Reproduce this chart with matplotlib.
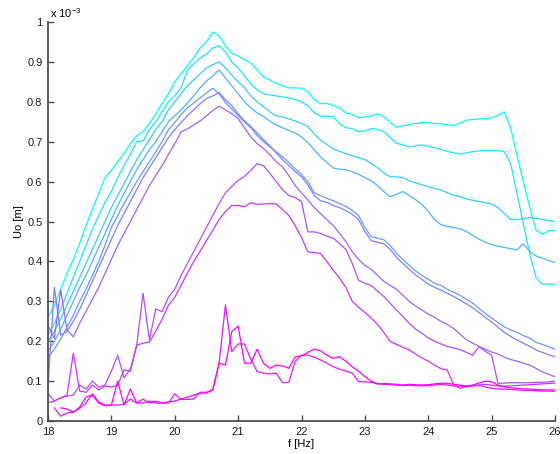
import numpy as np
import matplotlib
matplotlib.use("Agg")
import matplotlib.pyplot as plt
from matplotlib.ticker import FixedLocator, FuncFormatter

plt.rcParams['font.family'] = ['Liberation Sans', 'DejaVu Sans']
plt.rcParams['mathtext.default'] = 'regular'

# frequency grid [Hz]
freq = [round(18.0 + 0.1 * i, 1) for i in range(81)]

# amplitudes in units of 1e-3 m, one list per measurement series
nan = float('nan')
uo_1 = [.260, .290, .330, .370, .405, .445, .490, .530, .570, .610,
        .628, .650, .670, .695, .715, .725, .745, .770, .795, .820,
        .850, .870, .890, .910, .935, .950, .975, .965, .940, .922,
        .915, .905, .897, .880, .862, .855, .846, .840, .835, .835,
        .834, .825, .806, .795, .796, .790, .785, .772, .768, .760,
        .762, .765, .769, .762, .748, .736, .740, .743, .746, .748,
        .748, .745, .745, .743, .740, .747, .754, .756, .757, .758,
        .760, .766, .775, .735, .665, .600, .537, .478, .468, .477,
        .478]
uo_2 = [.215, .245, .280, .320, .360, .400, .440, .480, .515, .548,
        .575, .610, .640, .668, .700, .702, .730, .750, .775, .800,
        .815, .835, .880, .895, .910, .920, .935, .940, .925, .900,
        .885, .865, .845, .830, .820, .817, .815, .812, .810, .806,
        .800, .790, .773, .764, .764, .763, .745, .735, .733, .725,
        .727, .733, .731, .725, .710, .696, .692, .687, .690, .692,
        .688, .685, .680, .676, .672, .669, .672, .675, .677, .678,
        .678, .678, .675, .645, .570, .495, .420, .360, .343, .343,
        .343]
uo_3 = [.200, .225, .255, .290, .325, .360, .395, .430, .465, .500,
        .535, .565, .595, .625, .655, .680, .705, .730, .750, .780,
        .800, .820, .840, .855, .870, .885, .893, .900, .885, .867,
        .850, .835, .815, .800, .788, .775, .765, .762, .757, .752,
        .746, .738, .720, .704, .693, .682, .676, .670, .665, .660,
        .655, .645, .635, .622, .612, .612, .610, .602, .597, .592,
        .587, .583, .579, .572, .566, .562, .557, .553, .550, .547,
        .544, .535, .520, .505, .505, .507, .510, .508, .505, .502,
        .500]
uo_4 = [.175, .200, .230, .265, .300, .335, .365, .400, .435, .470,
        .505, .540, .570, .600, .630, .655, .680, .700, .725, .750,
        .765, .780, .797, .815, .835, .852, .865, .880, .860, .840,
        .820, .800, .785, .772, .763, .752, .742, .735, .728, .722,
        .712, .698, .680, .662, .648, .634, .631, .630, .625, .618,
        .610, .602, .590, .575, .562, .568, .575, .565, .555, .543,
        .525, .505, .492, .488, .485, .482, .475, .465, .456, .448,
        .442, .438, .435, .432, .429, .444, .425, .414, .408, .402,
        .397]
uo_5 = [.160, .180, .205, .235, .265, .300, .330, .365, .400, .440,
        .485, .515, .545, .572, .600, .625, .650, .675, .700, .730,
        .748, .768, .785, .797, .810, .822, .834, .820, .798, .782,
        .765, .750, .735, .715, .700, .687, .675, .662, .648, .632,
        .618, .600, .572, .565, .558, .552, .545, .538, .528, .515,
        .485, .462, .458, .454, .440, .420, .405, .390, .376, .365,
        .355, .345, .340, .330, .323, .315, .305, .296, .282, .270,
        .258, .247, .236, .228, .222, .214, .208, .197, .192, .186,
        .180]
uo_6 = [.085, .335, .215, .225, .250, .280, .315, .350, .385, .420,
        .455, .490, .520, .550, .580, .610, .635, .660, .685, .710,
        .730, .748, .765, .780, .795, .808, .815, .823, .805, .790,
        .770, .752, .738, .722, .705, .690, .672, .655, .640, .625,
        .612, .592, .565, .552, .548, .540, .535, .527, .518, .505,
        .475, .452, .448, .444, .430, .410, .395, .380, .366, .355,
        .343, .335, .328, .320, .312, .303, .294, .284, .272, .260,
        .248, .235, .222, .212, .203, .195, .187, .178, .172, .166,
        .161]
uo_7 = [.240, .207, .328, .228, .211, .245, .275, .305, .335, .370,
        .405, .440, .470, .500, .530, .560, .590, .615, .640, .668,
        .695, .725, .732, .742, .752, .765, .778, .789, .780, .770,
        .758, .735, .712, .695, .683, .668, .650, .637, .615, .590,
        .572, .554, .535, .520, .505, .490, .470, .450, .425, .405,
        .390, .380, .365, .350, .340, .330, .315, .300, .288, .278,
        .268, .260, .250, .242, .232, .218, .204, .195, .187, .180,
        .173, .168, .160, .154, .150, .145, .140, .132, .123, .117,
        .111]
uo_8 = [.069, .050, .058, .062, .065, .090, .080, .100, .085, .090,
        .125, .165, .108, .130, .190, .320, .203, .281, .274, .310,
        .330, .365, .395, .425, .455, .485, .515, .545, .572, .588,
        .603, .613, .628, .645, .640, .621, .600, .580, .565, .560,
        .550, .474, .474, .470, .463, .458, .445, .430, .395, .353,
        .345, .340, .325, .312, .295, .278, .262, .245, .230, .220,
        .208, .200, .193, .187, .183, .179, .172, .165, .186, .175,
        .165, .094, .095, .096, .096, .096, .096, .097, .097, .098,
        .100]
uo_9 = [.046, .050, .058, .065, .170, .075, .072, .090, .078, .088,
        .085, .090, .128, .125, .190, .195, .198, .225, .255, .290,
        .310, .340, .370, .400, .425, .452, .478, .505, .525, .540,
        .540, .537, .547, .543, .544, .545, .544, .530, .515, .490,
        .460, .424, .422, .420, .400, .378, .358, .335, .300, .285,
        .272, .258, .242, .222, .199, .192, .185, .178, .168, .158,
        .150, .140, .131, .128, .090, .082, .086, .088, .090, .092,
        .090, .088, .087, .088, .089, .090, .091, .092, .093, .094,
        .095]
uo_10 = [nan, .033, .012, .020, .022, .032, .045, .068, .048, .040,
         .040, .040, .042, .055, .045, .055, .045, .050, .045, .045,
         .068, .054, .054, .055, .072, .072, .078, .145, .291, .174,
         .193, .193, .155, .124, .120, .118, .120, .096, .097, .149,
         .165, .165, .160, .153, .145, .136, .130, .125, .120, .099,
         .098, .097, .093, .092, .091, .090, .089, .090, .088, .088,
         .089, .090, .092, .090, .088, .087, .086, .088, .090, .085,
         .082, .080, .080, .079, .078, .077, .077, .076, .075, .075,
         .074]
uo_11 = [nan, nan, .033, .030, .022, .035, .060, .065, .045, .038,
         .040, .100, .040, .080, .045, .045, .050, .045, .045, .048,
         .050, .055, .060, .065, .070, .070, .078, .145, .140, .224,
         .238, .145, .145, .180, .145, .132, .140, .138, .132, .161,
         .163, .172, .180, .176, .165, .157, .161, .150, .136, .125,
         .111, .100, .093, .094, .093, .092, .090, .092, .091, .090,
         .091, .093, .095, .094, .092, .090, .088, .090, .095, .100,
         .098, .090, .085, .083, .082, .080, .080, .079, .078, .078,
         .078]

series = [uo_1, uo_2, uo_3, uo_4, uo_5, uo_6, uo_7, uo_8, uo_9, uo_10, uo_11]

x_ticks = [18, 19, 20, 21, 22, 23, 24, 25, 26]
y_ticks = [0, 0.1, 0.2, 0.3, 0.4, 0.5, 0.6, 0.7, 0.8, 0.9, 1.0]

fig = plt.figure(figsize=(5.6, 4.54), dpi=100)
ax = fig.add_axes([48 / 560, 33 / 454, 507 / 560, 399 / 454])

cmap = plt.get_cmap('cool')
n = len(series)
for i, s in enumerate(series):
    ax.plot(freq, np.array(s) * 1e-3, color=cmap(i / (n - 1)), lw=0.9)

ax.set_xlim(18, 26)
ax.set_ylim(0, 1e-3)
ax.xaxis.set_major_locator(FixedLocator(x_ticks))
ax.yaxis.set_major_locator(FixedLocator([v * 1e-3 for v in y_ticks]))
ax.xaxis.set_major_formatter(FuncFormatter(lambda v, p: f"{v:g}"))
ax.yaxis.set_major_formatter(FuncFormatter(lambda v, p: f"{round(v * 1e3, 1):g}"))

for side in ['top', 'right']:
    ax.spines[side].set_visible(False)
for side in ['left', 'bottom']:
    ax.spines[side].set_color('#4d4d4d')
    ax.spines[side].set_linewidth(1.3)
ax.tick_params(direction='in', length=4, width=1.0, color='#4d4d4d',
               labelsize=8, labelcolor='#1a1a1a', pad=4)

ax.set_xlabel('f [Hz]', fontsize=8, labelpad=2)
ax.set_ylabel('Uo [m]', fontsize=8, labelpad=2)
fig.text(50 / 560, 1 - 13 / 454, r'x 10$^{-3}$', fontsize=8, va='center', ha='left')

fig.savefig('out.png', dpi=100)
